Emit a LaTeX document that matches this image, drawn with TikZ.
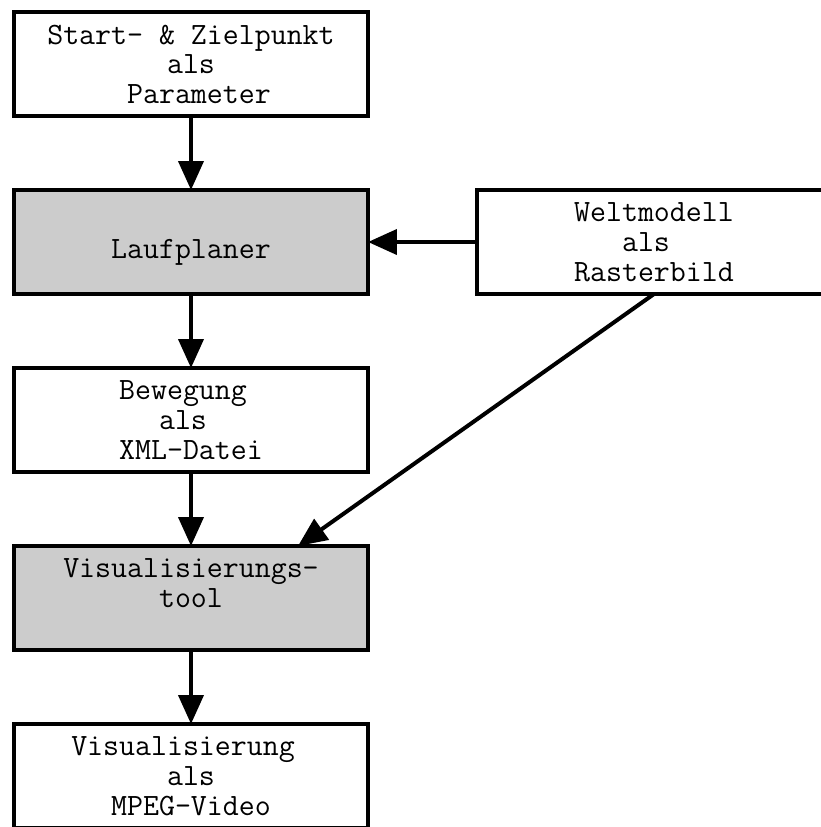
\documentclass[tikz,border=0pt]{standalone}
\usepackage{fontspec}
\usepackage{tikz}
\usetikzlibrary{matrix,arrows.meta}

\tikzset{
	box/.style={draw, line width=2pt, fill=white, minimum width=177pt, minimum height=52pt,
		outer sep=0pt, inner sep=0pt, align=center, text depth=0pt,
		font=\ttfamily\fontsize{15.5pt}{14.8pt}\selectfont},
	toolbox/.style={box, fill=gray!40},
	flow/.style={line width=2pt, -{Triangle[length=14.5pt, width=12.5pt]}}
}

\begin{document}
\begin{tikzpicture}
	\matrix[name=m, column sep=52.5pt, row sep=35pt] {
	\node[box] (start) {Start- \& Zielpunkt\\als\\\hphantom{x}Parameter}; & \\
	\node[toolbox, text height=16pt] (planer) {Laufplaner}; &
	\node[box] (welt) {Weltmodell\\als\hphantom{x}\\Rasterbild}; \\
	\node[box] (motion) {Bewegung\hphantom{x}\\als\hphantom{x}\\XML-Datei}; & \\
	\node[toolbox, text depth=14.7pt] (vistool) {Visualisierungs-\\tool}; & \\
	\node[box] (video) {Visualisierung\hphantom{x}\\als\\MPEG-Video}; & \\ };
	\pgfresetboundingbox
	\useasboundingbox ([shift={(-95.5pt,32pt)}]start.center) rectangle ++(410.5pt,-413.5pt);
	\path[flow]
	(start) edge (planer)
	(planer) edge (motion)
	(motion) edge (vistool)
	(vistool) edge (video)
	(welt) edge (planer)
	(welt.south) edge ([xshift=53.5pt]vistool.north) ;
	\end{tikzpicture}
\end{document}
